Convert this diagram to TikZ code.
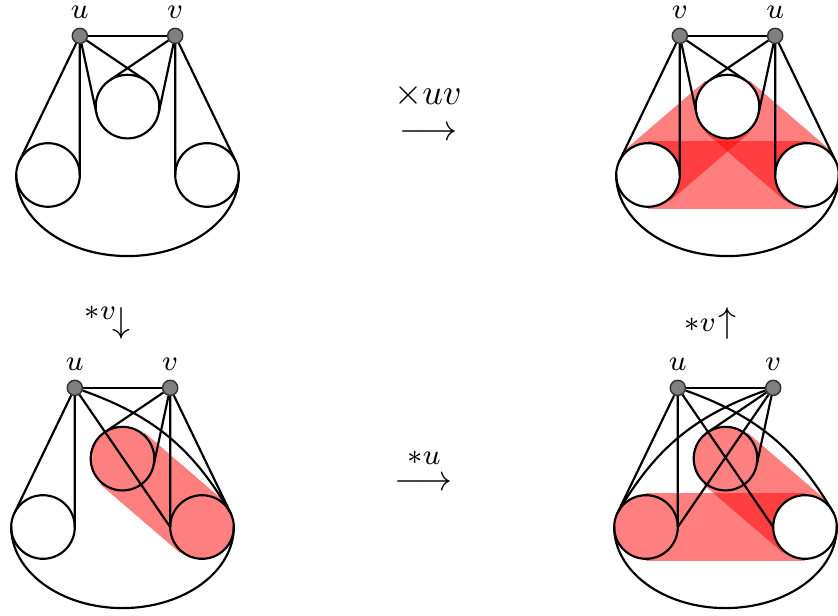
\documentclass[tikz,border=0pt]{standalone}
\usepackage{amsmath,amssymb}
\usepackage{tikz}
\usetikzlibrary{positioning, calc, backgrounds}
\tikzset{
  vtx/.style={circle, fill=gray, draw=black!80, thin,
    minimum size=4.2pt, inner sep=0pt},
  cl/.style={circle, draw=black, fill=white,
    minimum size=0.621cm, inner sep=0pt, outer sep=0pt},
  clR/.style={cl, fill=red!50},
  band/.style={line width=18.9pt, red, opacity=0.5},
  op/.style={inner sep=0pt},
  oplab/.style={inner sep=0pt, font=\footnotesize},
  every label/.style={font=\footnotesize},
}

\begin{document}
\begin{tikzpicture}[x=0.776cm, y=0.776cm, semithick,
    label distance=-1pt]
  \useasboundingbox (0,0) rectangle (10.541,7.736);

  % -- start graph --
  \begin{scope}[shift={(1.604,5.535)}]
    \node[vtx, label=above:$u$] (u1) at (-0.6,1.75) {};
    \node[vtx, label=above:$v$] (v1) at (0.6,1.75) {};
    \node[cl] (L1) at (-1,0) {};
    \node[cl] (M1) at (0,0.86) {};
    \node[cl] (R1) at (1,0) {};
    \draw (u1) -- (v1);
    \draw (u1) -- (L1.154) (u1) -- (L1.east);
    \draw (u1) -- (M1.192) (u1) -- (M1.56);
    \draw (v1) -- (M1.124) (v1) -- (M1.348);
    \draw (v1) -- (R1.west) (v1) -- (R1.26);
    \draw (L1.west) arc[start angle=180, end angle=360,
         x radius=1.4, y radius=1.02];
  \end{scope}

  % -- after pivoting on uv --
  \begin{scope}[shift={(9.151,5.535)}]
    \node[vtx, label=above:$v$] (v2) at (-0.6,1.75) {};
    \node[vtx, label=above:$u$] (u2) at (0.6,1.75) {};
    \node[cl] (L2) at (-1,0) {};
    \node[cl] (M2) at (0,0.86) {};
    \node[cl] (R2) at (1,0) {};
    \draw (v2) -- (u2);
    \draw (v2) -- (L2.154) (v2) -- (L2.east);
    \draw (v2) -- (M2.192) (v2) -- (M2.56);
    \draw (u2) -- (M2.124) (u2) -- (M2.348);
    \draw (u2) -- (R2.west) (u2) -- (R2.26);
    \draw (L2.west) arc[start angle=180, end angle=360,
         x radius=1.4, y radius=1.02];
    \begin{scope}[on background layer]
      \draw[band] (L2.center) -- (R2.center);
      \draw[band] (L2.center) -- (M2.center);
      \draw[band] (M2.center) -- (R2.center);
    \end{scope}
  \end{scope}

  % -- after *v --
  \begin{scope}[shift={(1.541,1.107)}]
    \node[vtx, label=above:$u$] (u3) at (-0.6,1.75) {};
    \node[vtx, label=above:$v$] (v3) at (0.6,1.75) {};
    \node[cl] (L3) at (-1,0) {};
    \node[clR] (M3) at (0,0.86) {};
    \node[clR] (R3) at (1,0) {};
    \draw (u3) -- (v3);
    \draw (u3) -- (L3.154) (u3) -- (L3.east);
    \draw (u3) -- (R3.west);
    \draw (u3) to[bend left=20] (R3.26);
    \draw (v3) -- (M3.124) (v3) -- (M3.348);
    \draw (v3) -- (R3.west) (v3) -- (R3.26);
    \draw (L3.west) arc[start angle=180, end angle=360,
         x radius=1.4, y radius=1.02];
    \begin{scope}[on background layer]
      \draw[band] (M3.center) -- (R3.center);
    \end{scope}
  \end{scope}

  % -- after *v then *u --
  \begin{scope}[shift={(9.126,1.107)}]
    \node[vtx, label=above:$u$] (u4) at (-0.6,1.75) {};
    \node[vtx, label=above:$v$] (v4) at (0.6,1.75) {};
    \node[clR] (L4) at (-1,0) {};
    \node[clR] (M4) at (0,0.86) {};
    \node[cl] (R4) at (1,0) {};
    \draw (u4) -- (v4);
    \draw (u4) -- (L4.154) (u4) -- (L4.east);
    \draw (u4) -- (R4.west);
    \draw (u4) to[bend left=20] (R4.26);
    \draw (v4) -- (M4.124) (v4) -- (M4.348);
    \draw (v4) -- (L4.east);
    \draw (v4) to[bend right=20] (L4.154);
    \draw (L4.west) arc[start angle=180, end angle=360,
         x radius=1.4, y radius=1.02];
    \begin{scope}[on background layer]
      \draw[band] (L4.center) -- (R4.center);
      \draw[band] (M4.center) -- (R4.center);
    \end{scope}
  \end{scope}

  % -- operations --
  \node[op] (piv) at (5.384,6.05) {$\longrightarrow$};
  \node[op, above=4.86pt of piv] (pivlab) {$\times uv$};
  \node[op] (locu) at (5.333,1.648) {$\longrightarrow$};
  \node[oplab, above=3pt of locu] (loculab) {$*u$};
  \node[op] (locvdn) at (1.531,3.67) {$\downarrow$};
  \node[oplab, left=-1.5pt of locvdn, yshift=2.8pt] (locvdnlab) {$*v$};
  \node[op] (locvup) at (9.145,3.67) {$\uparrow$};
  \node[oplab, left=0pt of locvup, yshift=-0.3pt] (locvuplab) {$*v$};
\end{tikzpicture}
\end{document}
